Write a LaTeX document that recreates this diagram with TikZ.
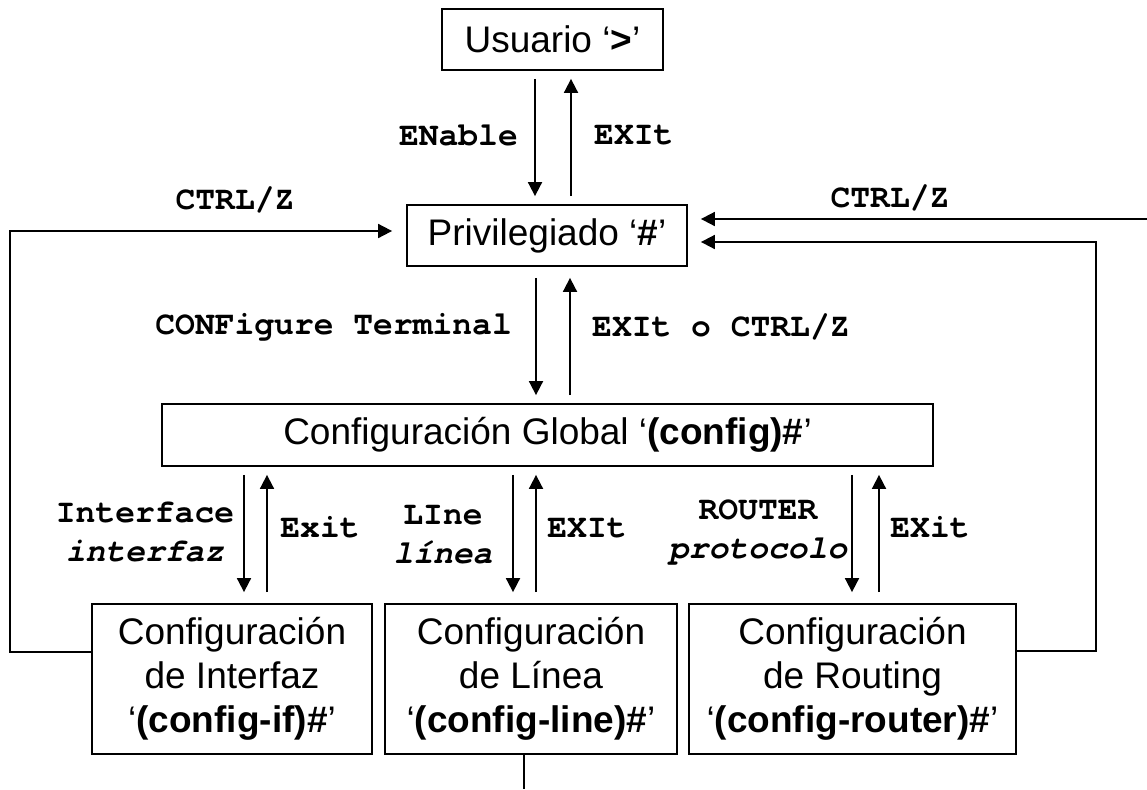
\documentclass[tikz,border=0pt]{standalone}
\usepackage{fontspec}
\setmainfont{Liberation Sans}
\newfontfamily\monof{TeX Gyre Cursor}
\usetikzlibrary{arrows.meta,calc}
\tikzset{
  box/.style={draw, line width=1.8pt, inner sep=0pt, align=center, font=\fontsize{37}{44}\selectfont},
  arr/.style={line width=1.8pt, -{Triangle[length=14pt,width=14pt]}},
  ln/.style={line width=1.8pt},
  lbl/.style={font=\monof\bfseries\fontsize{33}{39}\selectfont, inner sep=0pt, align=center},
  gap/.style={shorten <=8pt, shorten >=8pt},
}
\begin{document}
\begin{tikzpicture}[x=1pt,y=-1pt]
\useasboundingbox (0,0) rectangle (1147,789);
% boxes
\node[box, minimum width=221pt, minimum height=61pt] (usr) at (552.5,39.5) {Usuario ‘\textbf{>}’};
\node[box, minimum width=280pt, minimum height=61pt] (priv) at (547,235.5) {Privilegiado ‘\textbf{\#}’};
\node[box, minimum width=771pt, minimum height=62pt] (glob) at (547.5,435) {Configuración Global ‘\textbf{(config)\#}’};
\node[box, minimum width=280pt, minimum height=150pt] (intf) at (232,679) {Configuración\\de Interfaz\\‘\textbf{(config-if)\#}’};
\node[box, minimum width=292pt, minimum height=150pt] (line) at (531,679) {Configuración\\de Línea\\‘\textbf{(config-line)\#}’};
\node[box, minimum width=327pt, minimum height=150pt] (rout) at (852.5,679) {Configuración\\de Routing\\‘\textbf{(config-router)\#}’};
% vertical arrow pairs
\draw[arr,gap] ([xshift=-17.5pt]usr.south) -- ([xshift=-17.5pt]usr.south |- priv.north);
\draw[arr,gap] ([xshift=18.5pt]usr.south |- priv.north) -- ([xshift=18.5pt]usr.south);
\draw[arr,gap,shorten <=11pt] ([xshift=-11pt]priv.south) -- ([xshift=-11pt]priv.south |- glob.north);
\draw[arr,gap,shorten >=11pt] ([xshift=23pt]priv.south |- glob.north) -- ([xshift=23pt]priv.south);
\draw[arr,gap,shorten >=11pt] (glob.south -| intf.north) ++(12pt,0) coordinate (g1) -- (g1 |- intf.north);
\draw[arr,gap,shorten <=11pt] ([xshift=35pt]intf.north) -- ([xshift=35pt]intf.north |- glob.south);
\draw[arr,gap,shorten >=11pt] ([xshift=-18pt]line.north |- glob.south) -- ([xshift=-18pt]line.north);
\draw[arr,gap,shorten <=11pt] ([xshift=5pt]line.north) -- ([xshift=5pt]line.north |- glob.south);
\draw[arr,gap,shorten >=11pt] ([xshift=-0.5pt]rout.north |- glob.south) -- ([xshift=-0.5pt]rout.north);
\draw[arr,gap,shorten <=11pt] ([xshift=26.5pt]rout.north) -- ([xshift=26.5pt]rout.north |- glob.south);
% return loops
\coordinate (lx) at (10,400);
\coordinate (rx) at (1096,400);
\coordinate (rin) at (1147,219);
\coordinate (bot) at (524,789);
\draw[arr,shorten >=14pt] ([yshift=27pt]intf.west) -| (lx) |- ([yshift=4.5pt]priv.west);
\draw[arr,shorten >=13pt] (rin) -- (rin -| priv.east);
\draw[arr,shorten >=13pt] ([yshift=28pt]rout.east) -| (rx) |- ([yshift=-6.5pt]priv.east);
\draw[ln] (line.south -| bot) -- (bot);
% labels
\node[lbl, anchor=east] (l1) at (518,135) {ENable};
\node[lbl, anchor=west] (l2) at (594,135) {EXIt};
\node[lbl] (l3) at (235,200) {CTRL/Z};
\node[lbl] (l4) at (890,198) {CTRL/Z};
\node[lbl, anchor=east] (l5) at (512,327) {CONFigure Terminal};
\node[lbl, anchor=west] (l6) at (592,327) {EXIt o CTRL/Z};
\node[lbl] (l7) at (145,532) {Interface\\{\itshape interfaz}};
\node[lbl] (l8) at (320,527) {Exit};
\node[lbl] (l9) at (443,535) {LIne\\{\itshape línea}};
\node[lbl] (l10) at (587,528) {EXIt};
\node[lbl] (l11) at (758,533) {ROUTER\\{\itshape protocolo}};
\node[lbl] (l12) at (930,527) {EXit};
\end{tikzpicture}
\end{document}
